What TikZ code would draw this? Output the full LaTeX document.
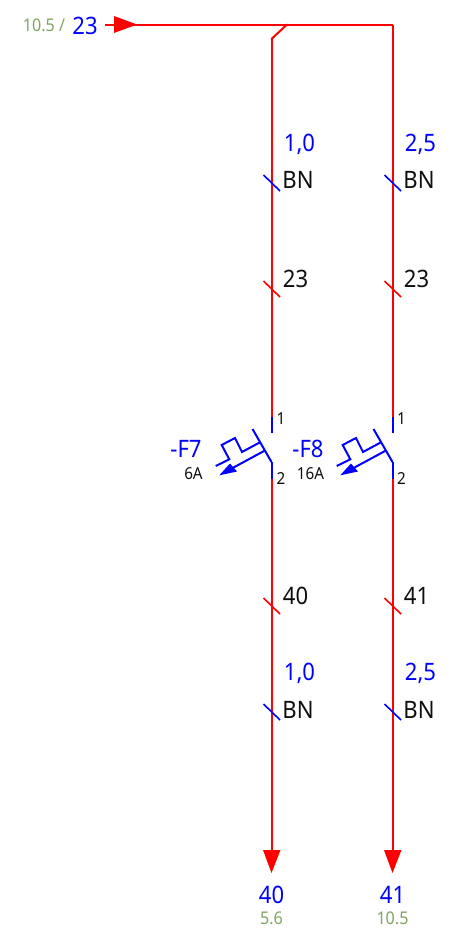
\documentclass[tikz,border=0pt]{standalone}
\usepackage{fontspec}
\setmainfont[FakeStretch=0.92]{Noto Sans}
\definecolor{wirered}{RGB}{255,0,0}
\definecolor{wireblue}{RGB}{0,0,255}
\definecolor{refgreen}{RGB}{130,165,100}
\definecolor{txtblack}{RGB}{15,15,15}
\tikzset{
 wire/.style={draw=wirered,line width=2pt},
 bluewire/.style={draw=wireblue,line width=2pt},
 tick/.style={line width=1.6pt},
 lab/.style={inner sep=0pt,anchor=center,font=\fontsize{24}{24}\selectfont},
 bluelab/.style={lab,text=wireblue},
 blacklab/.style={lab,text=txtblack},
 small/.style={inner sep=0pt,anchor=center,text=txtblack,font=\fontsize{16.5}{16.5}\selectfont},
 green/.style={inner sep=0pt,anchor=center,text=refgreen,font=\fontsize{17.5}{17.5}\selectfont},
}
\begin{document}
\begin{tikzpicture}[x=1pt,y=-1pt]
\useasboundingbox[fill=white] (0,0) rectangle (461,945);
% junctions and wire points
\coordinate (in) at (105,24.5);
\coordinate (j) at (287,24.5);
\coordinate (jb) at (256,24.5);
\coordinate (k) at (271.5,39);
\coordinate (tr) at (392.5,24.5);
\foreach \n/\x in {L/271.5,R/392.5}{
 \coordinate (\n a) at (\x,417);
 \coordinate (\n b) at (\x,433);
 \coordinate (\n c) at (\x,462);
 \coordinate (\n d) at (\x,479);
 \coordinate (\n e) at (\x,851);
 \coordinate (\n t) at (\x,873);
 \coordinate (\n g) at (\x-19,429);
}
% main wires
\draw[wire] (in) -- (tr);
\draw[wire] (tr) -- (Ra);
\draw[wire] (jb) -- (j);
\draw[wire,line cap=round] (j) -- (k);
\draw[wire] (k) -- (La);
\draw[wire] (Ld) -- (Le);
\draw[wire] (Rd) -- (Re);
% arrows
\fill[wirered] (114,16) -- (137,24.5) -- (114,33) -- cycle;
\fill[wirered] (263,850) -- (280.5,850) -- (Lt) -- cycle;
\fill[wirered] (384,850) -- (401.5,850) -- (Rt) -- cycle;
% breakers
\foreach \n/\dx in {L/0,R/121}{
 \draw[bluewire] (\n a) -- (\n b);
 \draw[bluewire] (\n g) -- (\n c);
 \draw[bluewire] (\n c) -- (\n d);
 \begin{scope}[xshift=\dx pt]
 \draw[bluewire,line join=miter] (259.6,442.5) -- (242,452) -- (235,438) -- (221.7,445) -- (229.3,459.3) -- (215.7,466);
 \draw[bluewire] (264.6,450.7) -- (228,470.5);
 \fill[wireblue] (219.3,475.3) -- (230,463.5) -- (237,471.5) -- cycle;
 \end{scope}
}
% ticks
\foreach \x in {271.5,392.5}{
 \draw[wireblue,tick] (\x-8,175) -- (\x+8.5,191);
 \draw[wirered,tick] (\x-8,281) -- (\x+8.5,297);
 \draw[wirered,tick] (\x-8,598) -- (\x+8.5,614);
 \draw[wireblue,tick] (\x-8,704) -- (\x+8.5,720);
}
% labels
\node[green] (t1) at (44,25.5) {10.5 /};
\node[bluelab] (t2) at (85,25.5) {23};
\node[bluelab] (a1) at (299.5,144.5) {1,0};
\node[bluelab] (a2) at (420.5,144.5) {2,5};
\node[blacklab] (b1) at (298,179.5) {BN};
\node[blacklab] (b2) at (419,179.5) {BN};
\node[blacklab] (c1) at (295.5,278.5) {23};
\node[blacklab] (c2) at (416.5,278.5) {23};
\node[small] (n1) at (281,419) {1};
\node[small] (n2) at (401.5,419) {1};
\node[small] (m1) at (281,479) {2};
\node[small] (m2) at (401.5,479) {2};
\node[bluelab] (f7) at (186,449) {-F7};
\node[bluelab] (f8) at (308,449) {-F8};
\node[small] (r1) at (193.5,473.5) {6A};
\node[small] (r2) at (310.5,473.5) {16A};
\node[blacklab] (d1) at (295.5,595.5) {40};
\node[blacklab] (d2) at (416.5,595.5) {41};
\node[bluelab] (e1) at (299.5,673.5) {1,0};
\node[bluelab] (e2) at (420.5,673.5) {2,5};
\node[blacklab] (g1) at (298,709.5) {BN};
\node[blacklab] (g2) at (419,709.5) {BN};
\node[bluelab] (h1) at (271.5,894.5) {40};
\node[bluelab] (h2) at (392.5,894.5) {41};
\node[green] (i1) at (271.5,918) {5.6};
\node[green] (i2) at (392.5,918) {10.5};
\end{tikzpicture}
\end{document}
